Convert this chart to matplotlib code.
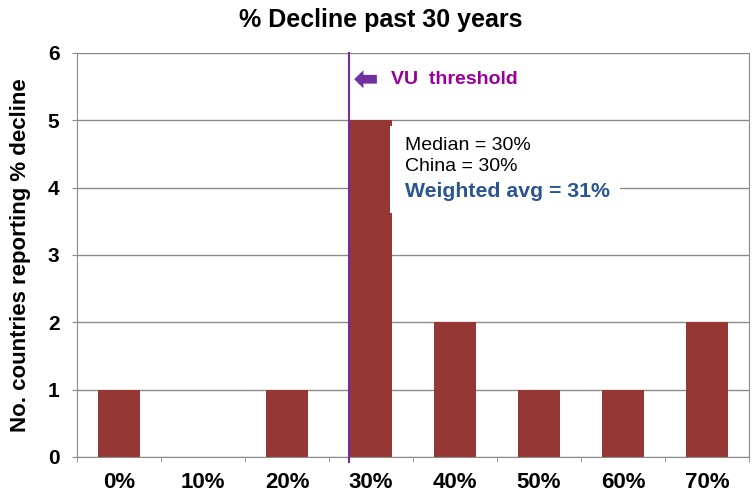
import numpy as np
import matplotlib.pyplot as plt
from matplotlib.patches import Rectangle, FancyArrow

plt.rcParams['font.family'] = ['Liberation Sans', 'DejaVu Sans']

categories = ['0%', '10%', '20%', '30%', '40%', '50%', '60%', '70%']
counts = [1, 0, 1, 5, 2, 1, 1, 2]
threshold_pos = 2.74  # VU threshold line, just left of the 30% bar

fig = plt.figure(figsize=(7.52, 4.97), dpi=100)
ax = fig.add_axes([0.1024, 0.0805, 0.8936, 0.8129])

x = np.arange(len(categories))
ax.bar(x, counts, width=0.51, color='#953735', zorder=2)

ax.set_xlim(-0.5, len(categories) - 0.5)
ax.set_ylim(0, 6)
ax.set_yticks(range(7))
ax.yaxis.grid(True, color='#8c8c8c', linewidth=1, zorder=0)

ax.set_xticks(x)
ax.set_xticklabels(categories, fontsize=16, fontweight='bold')
ax.set_xticks(np.arange(-0.5, len(categories) + 0.5, 1), minor=True)
ax.tick_params(axis='x', which='major', length=0, pad=11)
ax.tick_params(axis='x', which='minor', length=3.6, color='#8c8c8c', direction='out')
ax.tick_params(axis='y', length=3.6, color='#8c8c8c', labelsize=15, pad=9)
for lab in ax.get_yticklabels():
    lab.set_fontweight('bold')

ax.spines['top'].set_visible(False)
for s in ['left', 'bottom', 'right']:
    ax.spines[s].set_color('#8c8c8c')

ax.set_ylabel('No. countries reporting % decline', fontsize=16, fontweight='bold', labelpad=12)
ax.set_title('% Decline past 30 years', fontsize=18, fontweight='bold', pad=19, x=0.452)

ax.axvline(threshold_pos, color='#7030A0', linewidth=1.5, ymin=-0.012, ymax=1,
           clip_on=False, zorder=3)

# threshold arrow + label
ax.add_patch(FancyArrow(3.07, 5.61, -0.27, 0, width=0.13, head_width=0.27,
                        head_length=0.11, length_includes_head=True,
                        color='#7030A0', lw=0, zorder=4))
ax.text(3.235, 5.6, 'VU  threshold', color='#990099', fontsize=14,
        fontweight='bold', va='center', ha='left')

# white note box over the grid
ax.add_patch(Rectangle((3.23, 3.62), 2.73, 1.3, facecolor='white', edgecolor='none', zorder=3))
ax.text(3.4, 4.63, 'Median = 30%', fontsize=14, color='black', va='center', ha='left', zorder=5)
ax.text(3.4, 4.31, 'China = 30%', fontsize=14, color='black', va='center', ha='left', zorder=5)
ax.text(3.4, 3.94, 'Weighted avg = 31%', fontsize=15.3, color='#2A5590',
        fontweight='bold', va='center', ha='left', zorder=5)

plt.savefig('out.png', dpi=100)
